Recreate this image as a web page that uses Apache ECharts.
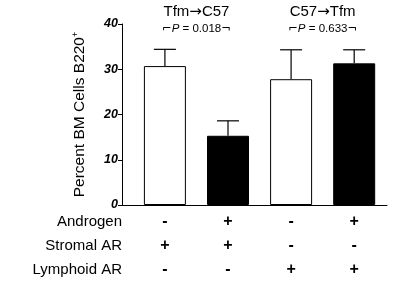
<!DOCTYPE html>
<html>
<head>
<meta charset="utf-8">
<script src="https://cdn.jsdelivr.net/npm/echarts@6/dist/echarts.min.js"></script>
<style>
  html, body { margin: 0; padding: 0; background: #fff; }
  #chart { width: 396px; height: 286px; }
</style>
</head>
<body>
<div id="chart"></div>
<script>
// bar groups
const positions = [1, 2, 3, 4]
const means = [30.7, 15.3, 27.8, 31.3]
const upper = [34.4, 18.6, 34.3, 34.3]
const filled = [false, true, false, true]
const androgen = ['-', '+', '-', '+']
const stromalAR = ['+', '+', '-', '-']
const lymphoidAR = ['-', '-', '+', '+']
const rowNames = ['Androgen', 'Stromal AR', 'Lymphoid AR']
const groupTitles = [['Tfm', 'C57'], ['C57', 'Tfm']]
const pValues = ['0.018', '0.633']
const yTicks = [0, 10, 20, 30, 40]

const font = '"Liberation Sans", Arial, Helvetica, sans-serif'
const chart = echarts.init(document.getElementById('chart'))

const barData = positions.map((p, i) => ({
  value: [p, means[i]],
  itemStyle: { color: filled[i] ? '#000' : '#fff', borderColor: '#000', borderWidth: 1 }
}))
const errData = positions.map((p, i) => [p, means[i], upper[i]])

const renderErr = (params, api) => {
  const top = api.coord([api.value(0), api.value(2)])
  const base = api.coord([api.value(0), api.value(1)])
  const style = { stroke: '#000', lineWidth: 1.2 }
  return {
    type: 'group',
    children: [
      { type: 'line', shape: { x1: base[0], y1: base[1], x2: top[0], y2: top[1] }, style },
      { type: 'line', shape: { x1: top[0] - 11, y1: top[1], x2: top[0] + 11, y2: top[1] }, style }
    ]
  }
}

const option = {
  animation: false,
  grid: { left: 122, right: 9, top: 24, bottom: 81, containLabel: false },
  xAxis: {
    type: 'value',
    min: 0.32,
    max: 4.52,
    splitLine: { show: false },
    axisLine: { lineStyle: { color: '#000', width: 1 } },
    axisTick: { show: false },
    axisLabel: {
      customValues: positions,
      margin: 5,
      color: '#000',
      fontSize: 16,
      fontWeight: 'bold',
      fontFamily: font,
      lineHeight: 24,
      formatter: (v) => {
        const i = positions.indexOf(Math.round(v))
        if (i < 0) return ''
        return androgen[i] + '\n' + stromalAR[i] + '\n' + lymphoidAR[i]
      }
    }
  },
  yAxis: {
    type: 'value',
    min: 0,
    max: 40,
    interval: 10,
    name: '{t|Percent BM Cells B220}{s|+}',
    nameLocation: 'middle',
    nameGap: 33,
    nameRotate: 90,
    nameTextStyle: {
      rich: {
        t: { fontSize: 15.5, fontFamily: font, color: '#000' },
        s: { fontSize: 9, fontFamily: font, color: '#000', verticalAlign: 'top', padding: [0, 0, 9, 0] }
      }
    },
    splitLine: { show: false },
    axisLine: { show: true, lineStyle: { color: '#000', width: 1 } },
    axisTick: { show: true, length: 4, lineStyle: { color: '#000' }, customValues: yTicks },
    axisLabel: { margin: 4, color: '#000', fontSize: 12.5, fontWeight: 'bold', fontStyle: 'italic', fontFamily: font }
  },
  series: [
    { type: 'bar', data: barData, barWidth: 42 },
    { type: 'custom', renderItem: renderErr, data: errData, z: 1 }
  ]
}
chart.setOption(option)

// row names on the left and the group headers, placed through the axis scales
const axisLeft = chart.convertToPixel({ gridIndex: 0 }, [0.32, 0])
const graphics = rowNames.map((name, i) => ({
  type: 'text',
  x: axisLeft[0],
  y: axisLeft[1] + 17 + i * 24,
  style: { text: name, fill: '#000', fontSize: 15, fontFamily: font, align: 'right', verticalAlign: 'middle' }
}))
groupTitles.forEach((pair, g) => {
  const cx = (positions[g * 2] + positions[g * 2 + 1]) / 2
  const px = chart.convertToPixel({ gridIndex: 0 }, [cx, 40])
  graphics.push({
    type: 'text',
    x: px[0],
    y: 12,
    style: {
      text: pair[0] + '{a|\u2192}' + pair[1],
      fill: '#000', fontSize: 15, fontFamily: font, align: 'center', verticalAlign: 'middle',
      rich: { a: { fontSize: 15, fontFamily: '"DejaVu Sans", sans-serif', fill: '#000' } }
    }
  })
  graphics.push({
    type: 'text',
    x: px[0],
    y: 29,
    style: {
      text: '{a|\u2310}{i|P} = ' + pValues[g] + '{a|\u00ac}',
      fill: '#000', fontSize: 11.5, fontFamily: font, align: 'center', verticalAlign: 'middle',
      rich: {
        i: { fontStyle: 'italic', fontSize: 11.5, fontFamily: font, fill: '#000' },
        a: { fontSize: 11.5, fontFamily: '"DejaVu Sans", sans-serif', fill: '#000' }
      }
    }
  })
})
chart.setOption({ graphic: graphics })
</script>
</body>
</html>
